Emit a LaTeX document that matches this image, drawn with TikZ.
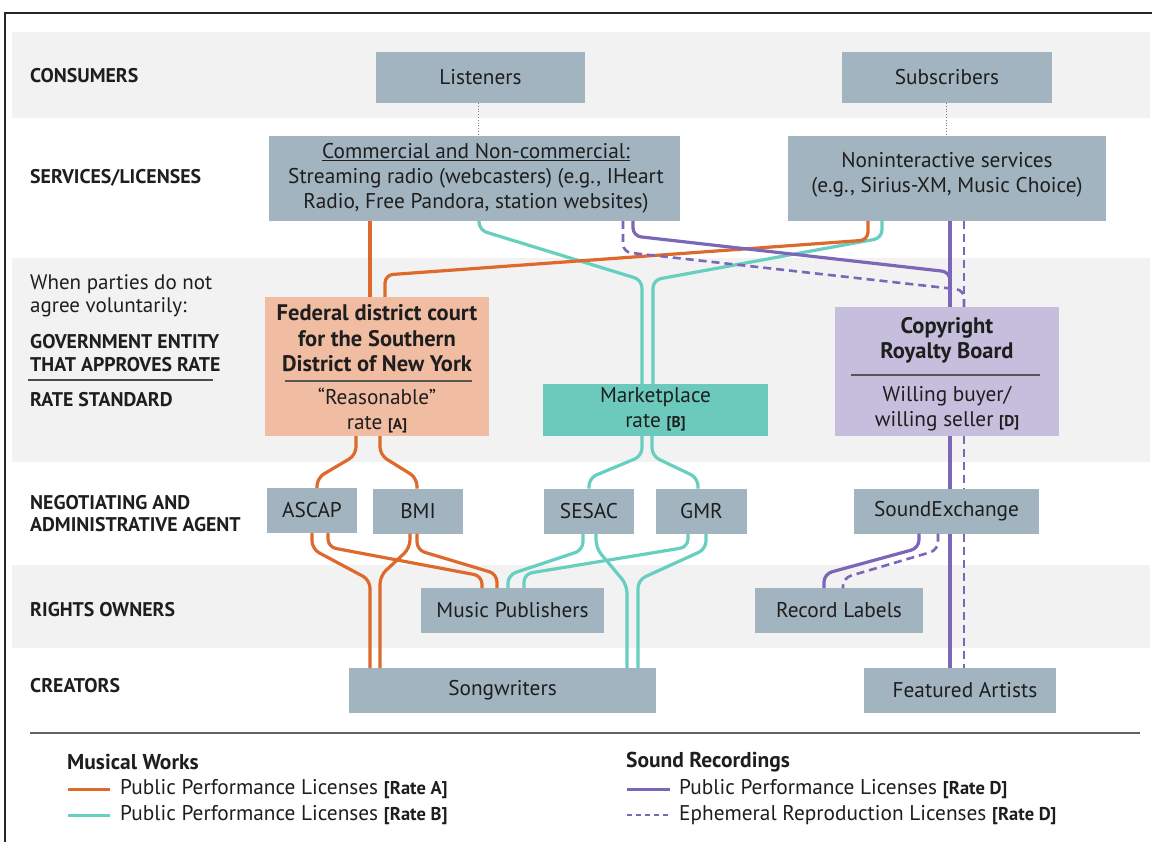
\documentclass[tikz,border=0pt]{standalone}
\usepackage{fontspec}
\setmainfont{PT Sans}
\usetikzlibrary{calc}
\definecolor{boxgray}{HTML}{A2B4BF}
\definecolor{bandgray}{HTML}{F2F2F2}
\definecolor{peach}{HTML}{F0BCA2}
\definecolor{tealbox}{HTML}{6CCABC}
\definecolor{lav}{HTML}{C6BEDD}
\definecolor{orl}{HTML}{DD6A2C}
\definecolor{tel}{HTML}{66CFBF}
\definecolor{pul}{HTML}{7B66B8}
\definecolor{ink}{HTML}{1E1E1E}
\newcommand{\rtag}[1]{{\bfseries\fontsize{15.5}{15}\selectfont #1}}
\newcommand{\ltag}[1]{{\bfseries\fontsize{18.5}{18}\selectfont #1}}
\tikzset{
  box/.style={fill=boxgray, inner sep=0pt, outer sep=0pt, align=center, text=ink, font=\fontsize{21.3}{25}\selectfont},
  txt/.style={inner sep=0pt, align=center, text=ink, font=\fontsize{21.3}{25}\selectfont},
  btxt/.style={inner sep=0pt, align=center, text=ink, font=\bfseries\fontsize{22.5}{25.5}\selectfont},
  rowlab/.style={anchor=west, inner sep=0pt, align=left, text=ink, font=\bfseries\fontsize{19.8}{22.5}\selectfont},
  rowreg/.style={anchor=west, inner sep=0pt, align=left, text=ink, font=\fontsize{21}{23}\selectfont},
  ra/.style={draw=orl, line width=3.2pt, rounded corners=8pt},
  rb/.style={draw=tel, line width=3.2pt, rounded corners=8pt},
  rd/.style={draw=pul, line width=3.2pt, rounded corners=8pt},
  re/.style={draw=pul, line width=2.6pt, dash pattern=on 8pt off 5pt, rounded corners=8pt},
  dotlink/.style={draw=gray, line width=0.8pt, dotted},
  leghead/.style={anchor=west, inner sep=0pt, text=ink, font=\bfseries\fontsize{21.5}{24}\selectfont},
  legtxt/.style={anchor=west, inner sep=0pt, text=ink, font=\fontsize{21.3}{24}\selectfont},
}
\begin{document}
\begin{tikzpicture}[x=1pt,y=-1pt]
\useasboundingbox (0,0) rectangle (1152,842);
\fill[white] (0,0) rectangle (1152,842);
% frame
\draw[line width=2pt, black!85] (1152,13) -- (5,13) -- (5,842);
% bands
\fill[bandgray] (12,32) rectangle (1150,118);
\fill[bandgray] (12,258) rectangle (1150,462);
\fill[bandgray] (12,565) rectangle (1150,648);
% row labels
\node[rowlab] (l1) at (30,76) {CONSUMERS};
\node[rowlab] (l2) at (30,178) {SERVICES/LICENSES};
\node[rowreg] (l3) at (30,296) {When parties do not\\agree voluntarily:};
\node[rowlab] (l4) at (30,353) {GOVERNMENT ENTITY\\THAT APPROVES RATE};
\draw[line width=1.2pt, ink!80] (28,380) -- (213,380);
\node[rowlab] (l5) at (30,400) {RATE STANDARD};
\node[rowlab] (l6) at (30,513.5) {NEGOTIATING AND\\ADMINISTRATIVE AGENT};
\node[rowlab] (l7) at (30,610) {RIGHTS OWNERS};
\node[rowlab] (l8) at (30,686) {CREATORS};
% boxes
\node[box, minimum width=209pt, minimum height=51pt] (lis) at (480.5,77.5) {Listeners};
\node[box, minimum width=210pt, minimum height=51pt] (sub) at (947,77.5) {Subscribers};
\node[box, minimum width=411pt, minimum height=85pt] (comm) at (474.5,178.5) {};
\node[txt] (commt) at (476,178) {\underline{Commercial and Non-commercial:}\\Streaming radio (webcasters) (e.g., IHeart\\Radio, Free Pandora, station websites)};
\node[box, minimum width=318pt, minimum height=85pt] (nonint) at (947,178.5) {};
\node[txt] (nonintt) at (947,174.5) {Noninteractive services\\(e.g., Sirius-XM, Music Choice)};
\node[box, fill=peach, minimum width=224pt, minimum height=139pt] (fed) at (377,366.5) {};
\node[btxt] (fedt) at (377,338.5) {Federal district court\\for the Southern\\District of New York};
\draw[line width=1.3pt, ink!75] (285,381) -- (472,381);
\node[txt] (fedr) at (377,410) {“Reasonable”\\rate \rtag{[A]}};
\node[box, fill=tealbox, minimum width=225pt, minimum height=52pt] (mkt) at (655.5,410) {};
\node[txt] (mktt) at (655.5,409) {Marketplace\\rate \rtag{[B]}};
\node[box, fill=lav, minimum width=224pt, minimum height=129pt] (crb) at (947,371.5) {};
\node[btxt] (crbt) at (947,340.5) {Copyright\\Royalty Board};
\draw[line width=1.3pt, ink!75] (851,375) -- (1040,375);
\node[txt] (crbr) at (947,408.5) {Willing buyer/\\willing seller \rtag{[D]}};
\node[box, minimum width=90pt, minimum height=45pt] (ascap) at (312,510.5) {ASCAP};
\node[box, minimum width=90pt, minimum height=45pt] (bmi) at (418,511) {BMI};
\node[box, minimum width=90pt, minimum height=45pt] (sesac) at (589,511) {SESAC};
\node[box, minimum width=91pt, minimum height=45pt] (gmr) at (701.5,511) {GMR};
\node[box, minimum width=185pt, minimum height=45pt] (sx) at (946.5,511) {SoundExchange};
\node[box, minimum width=183pt, minimum height=45pt] (mp) at (512.5,610.5) {Music Publishers};
\node[box, minimum width=168pt, minimum height=45pt] (rl) at (839,610.5) {Record Labels};
\node[box, minimum width=307pt, minimum height=45pt] (song) at (502.5,690.5) {Songwriters};
\node[box, minimum width=192pt, minimum height=45pt] (fa) at (960,690.5) {\hspace*{10pt}Featured Artists};
% dotted links
\draw[dotlink] ([xshift=-2.5pt]lis.south) -- ([xshift=3.5pt]comm.north);
\draw[dotlink] ([xshift=-1pt]sub.south) -- ([xshift=-1pt]nonint.north);
% rate B (teal)
\draw[rb] ([xshift=4.5pt]comm.south) -- (479,230) -- (642,280) -- ([xshift=-13.5pt]mkt.north);
\draw[rb] ([xshift=-65pt]nonint.south) -- (882,238) -- (653,280) -- ([xshift=-2.5pt]mkt.north);
\draw[rb] ([xshift=-13.5pt]mkt.south) -- (642,456) -- (589,478) -- (sesac.north);
\draw[rb] ([xshift=-3.5pt]mkt.south) -- (652,456) -- (698,478) -- ([xshift=-3.5pt]gmr.north);
\draw[rb] ([xshift=-6pt]sesac.south) -- (583,550) -- (508,575) -- ([xshift=-4.5pt]mp.north);
\draw[rb] ([xshift=7pt]sesac.south) -- (596,548) -- (627,585) -- ([xshift=124.5pt]song.north);
\draw[rb] ([xshift=-13.5pt]gmr.south) -- (688,547) -- (524,574) -- ([xshift=11.5pt]mp.north);
\draw[rb] ([xshift=4.5pt]gmr.south) -- (706,549) -- (638,580) -- ([xshift=135.5pt]song.north);
% rate A (orange)
\draw[ra] ([xshift=-104.5pt]comm.south) -- ([xshift=-7pt]fed.north);
\draw[ra] ([xshift=-79pt]nonint.south) -- (868,240) -- (385,275) -- ([xshift=8pt]fed.north);
\draw[ra] ([xshift=-21pt]fed.south) -- (356,455) -- (317,478) -- ([xshift=5pt]ascap.north);
\draw[ra] ([xshift=3pt]fed.south) -- (380,455) -- (417,478) -- ([xshift=-1pt]bmi.north);
\draw[ra] (ascap.south) -- (312,549) -- (370,580) -- ([xshift=-132.5pt]song.north);
\draw[ra] ([xshift=16pt]ascap.south) -- (328,547) -- (482,576) -- ([xshift=-30.5pt]mp.north);
\draw[ra] ([xshift=-8pt]bmi.south) -- (410,548) -- (380,576) -- ([xshift=-122.5pt]song.north);
\draw[ra] ([xshift=-1pt]bmi.south) -- (417,550) -- (497,574) -- ([xshift=-15.5pt]mp.north);
% rate D (purple)
\draw[rd] ([xshift=158.5pt]comm.south) -- (633,236) -- (950,272) -- ([xshift=3pt]crb.north);
\draw[rd] ([xshift=3pt]nonint.south) -- ([xshift=3pt]crb.north);
\draw[rd] ([xshift=3pt]crb.south) -- ([xshift=3.5pt]sx.north);
\draw[rd] ([xshift=3.5pt]sx.south) -- ([xshift=-10pt]fa.north);
\draw[rd] ([xshift=-27.5pt]sx.south) -- (919,548) -- (824,574) -- ([xshift=-15pt]rl.north);
% ephemeral (dashed purple)
\draw[re] ([xshift=148.5pt]comm.south) -- (623,252) -- (964,290) -- ([xshift=17pt]crb.north);
\draw[re] ([xshift=17pt]nonint.south) -- ([xshift=17pt]crb.north);
\draw[re] ([xshift=17pt]crb.south) -- ([xshift=17.5pt]sx.north);
\draw[re] ([xshift=17.5pt]sx.south) -- ([xshift=4pt]fa.north);
\draw[re] ([xshift=-8.5pt]sx.south) -- (938,550) -- (843,578) -- ([xshift=4pt]rl.north);
% legend
\draw[line width=1.2pt, ink!70] (30,733) -- (1140,733);
\node[leghead] (mw) at (67,762) {Musical Works};
\draw[draw=orl, line width=3pt] (68,789) -- (110,789);
\node[legtxt] (mwa) at (120,789) {Public Performance Licenses \ltag{[Rate A]}};
\draw[draw=tel, line width=3pt] (68,815) -- (110,815);
\node[legtxt] (mwb) at (120,815) {Public Performance Licenses \ltag{[Rate B]}};
\node[leghead] (sr) at (626,762) {Sound Recordings};
\draw[draw=pul, line width=3pt] (627,789) -- (670,789);
\node[legtxt] (srd) at (679,789) {Public Performance Licenses \ltag{[Rate D]}};
\draw[draw=pul, line width=2.3pt, dash pattern=on 5pt off 4pt] (627,815) -- (670,815);
\node[legtxt] (sre) at (679,815) {Ephemeral Reproduction Licenses \ltag{[Rate D]}};
\end{tikzpicture}
\end{document}
